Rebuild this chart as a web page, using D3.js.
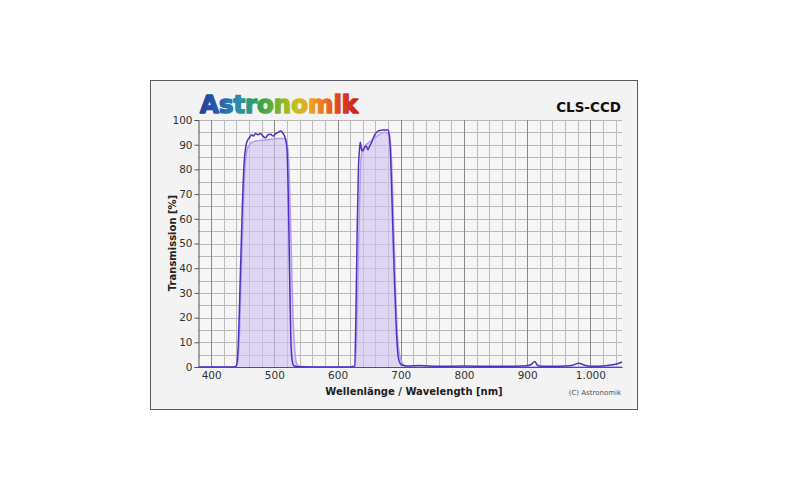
<!DOCTYPE html>
<html>
<head>
<meta charset="utf-8">
<script src="https://cdn.jsdelivr.net/npm/d3@7"></script>
<style>
  body { margin: 0; background: #ffffff; }
  svg { display: block; }
</style>
</head>
<body>
<div id="main"></div>
<script>
// Measured curve (dark line): wavelength [nm] and transmission [%]
const measuredNm = [380, 400, 420, 436, 440, 443, 446, 449, 452, 455, 458, 461, 464, 467, 470, 474, 478, 482, 486, 490, 494, 498, 502, 506, 510, 514, 518, 520, 522, 524, 526, 528, 531, 535, 560, 600, 620, 624, 627, 629, 631, 633, 635, 636, 638, 640, 643, 645, 648, 651, 654, 657, 660, 664, 668, 672, 676, 680, 682, 684, 687, 690, 693, 696, 699, 703, 710, 730, 760, 800, 840, 880, 900, 906, 912, 916, 922, 950, 970, 982, 990, 1000, 1020, 1035, 1045, 1050];
const measuredT = [0, 0, 0, 0, 0.5, 10, 35, 62, 82, 89.5, 92, 93, 94, 93.5, 94.5, 94, 94.5, 93.5, 92.8, 94, 94.2, 93.5, 94.5, 95, 95.5, 94.5, 92, 88, 70, 40, 12, 3, 0.5, 0.2, 0, 0, 0, 0.2, 0.5, 20, 55, 80, 89, 91, 88, 87.5, 89, 89.5, 88, 89.5, 91, 93, 94.5, 95.5, 95.8, 96, 96, 96, 93.5, 85, 60, 35, 15, 4, 1.5, 0.7, 0.4, 0.6, 0.3, 0.4, 0.3, 0.3, 0.5, 1, 2.2, 0.8, 0.3, 0.3, 0.6, 1.5, 0.8, 0.3, 0.4, 0.9, 1.5, 2];

// Reference curve (light filled area)
const referenceNm = [380, 438, 442, 445, 448, 451, 454, 457, 462, 470, 490, 505, 515, 520, 523, 526, 529, 532, 535, 540, 620, 627, 630, 633, 636, 639, 645, 655, 665, 675, 682, 686, 689, 692, 695, 699, 704, 710, 1050];
const referenceT = [0, 0, 2, 15, 40, 65, 82, 88, 90.5, 91.5, 92, 92.5, 92.5, 90.5, 82, 55, 25, 8, 1.5, 0, 0, 0, 10, 45, 78, 88, 90, 92, 94, 95, 94, 80, 55, 30, 12, 4, 1, 0, 0];

// Tick labels
const xTicks = [400, 500, 600, 700, 800, 900, 1000];
const xTickLabels = ['400', '500', '600', '700', '800', '900', '1.000'];
const yTicks = [0, 10, 20, 30, 40, 50, 60, 70, 80, 90, 100];

const measured = measuredNm.map((d, i) => ({ nm: d, t: measuredT[i] }));
const reference = referenceNm.map((d, i) => ({ nm: d, t: referenceT[i] }));

const width = 800;
const height = 492;

const svg = d3
  .select('div#main')
  .append('svg')
  .attr('width', width)
  .attr('height', height);

// Outer frame
svg
  .append('rect')
  .attr('x', 150.5)
  .attr('y', 80.5)
  .attr('width', 487)
  .attr('height', 329)
  .attr('fill', '#f3f3f3')
  .attr('stroke', '#5a5a5a')
  .attr('stroke-width', 1);

// Scales
const x = d3.scaleLinear().domain([380, 1050]).range([198.5, 622]);
const y = d3.scaleLinear().domain([0, 100]).range([367, 120]);

// Plot background
svg
  .append('rect')
  .attr('x', x(380))
  .attr('y', y(100))
  .attr('width', x(1050) - x(380))
  .attr('height', y(0) - y(100))
  .attr('fill', '#f6f6f6');

// Grid lines
const grid = svg.append('g');
grid
  .selectAll('line.hgrid')
  .data(d3.range(5, 101, 5))
  .join('line')
  .attr('x1', x(380))
  .attr('x2', x(1050))
  .attr('y1', (d) => Math.round(y(d)) + 0.5)
  .attr('y2', (d) => Math.round(y(d)) + 0.5)
  .attr('stroke', '#b8b8b8')
  .attr('stroke-width', 1);
grid
  .selectAll('line.vgrid')
  .data(d3.range(400, 1050, 20))
  .join('line')
  .attr('x1', (d) => Math.round(x(d)) + 0.5)
  .attr('x2', (d) => Math.round(x(d)) + 0.5)
  .attr('y1', y(100))
  .attr('y2', y(0))
  .attr('stroke', (d) => (d % 100 === 0 ? '#8a8a8a' : '#bcbcbc'))
  .attr('stroke-width', 1);

// Reference curve: light fill + outline
const area = d3
  .area()
  .x((d) => x(d.nm))
  .y0(y(0))
  .y1((d) => y(d.t))
  .curve(d3.curveMonotoneX);
const line = d3
  .line()
  .x((d) => x(d.nm))
  .y((d) => y(d.t))
  .curve(d3.curveMonotoneX);

svg
  .append('path')
  .datum(reference)
  .attr('d', area)
  .attr('fill', '#cdbff0')
  .attr('fill-opacity', 0.6);
svg
  .append('path')
  .datum(reference)
  .attr('d', line)
  .attr('fill', 'none')
  .attr('stroke', '#b39cf0')
  .attr('stroke-width', 1.5);

// Measured curve
svg
  .append('path')
  .datum(measured)
  .attr('d', line)
  .attr('fill', 'none')
  .attr('stroke', '#5230c4')
  .attr('stroke-width', 1.5);

// Axes
const yAxis = d3
  .axisLeft(y)
  .tickValues(yTicks)
  .tickSize(4)
  .tickPadding(2);
svg
  .append('g')
  .attr('transform', `translate(${x(380)},0)`)
  .call(yAxis)
  .call((g) => g.selectAll('.domain').attr('stroke', '#555555'))
  .call((g) => g.selectAll('.tick line').attr('stroke', '#555555'))
  .call((g) =>
    g
      .selectAll('.tick text')
      .attr('fill', '#333333')
      .style('font-family', 'DejaVu Sans, sans-serif')
      .style('font-size', '10.5px')
  );

const xAxis = d3
  .axisBottom(x)
  .tickValues(xTicks)
  .tickSize(0)
  .tickPadding(5)
  .tickFormat((d, i) => xTickLabels[i]);
svg
  .append('g')
  .attr('transform', `translate(0,${y(0)})`)
  .call(xAxis)
  .call((g) => g.selectAll('.domain').attr('stroke', '#555555'))
  .call((g) =>
    g
      .selectAll('.tick text')
      .attr('fill', '#333333')
      .style('font-family', 'DejaVu Sans, sans-serif')
      .style('font-size', '10.5px')
  );

// Axis titles
svg
  .append('text')
  .attr('x', 414)
  .attr('y', 395)
  .attr('text-anchor', 'middle')
  .attr('fill', '#222222')
  .style('font-family', 'DejaVu Sans, sans-serif')
  .style('font-weight', 'bold')
  .style('font-size', '10px')
  .text('Wellenlänge / Wavelength [nm]');

svg
  .append('text')
  .attr('transform', 'translate(176,243) rotate(-90)')
  .attr('text-anchor', 'middle')
  .attr('fill', '#222222')
  .style('font-family', 'DejaVu Sans, sans-serif')
  .style('font-weight', 'bold')
  .style('font-size', '10px')
  .text('Transmission [%]');

svg
  .append('text')
  .attr('x', 621)
  .attr('y', 395)
  .attr('text-anchor', 'end')
  .attr('fill', '#555555')
  .style('font-family', 'DejaVu Sans, sans-serif')
  .style('font-size', '7px')
  .text('(C) Astronomik');

// Logo with rainbow gradient
const grad = svg
  .append('defs')
  .append('linearGradient')
  .attr('id', 'rainbow')
  .attr('gradientUnits', 'userSpaceOnUse')
  .attr('x1', 199)
  .attr('x2', 359)
  .attr('y1', 0)
  .attr('y2', 0);
const stops = [
  [0, '#1f3d96'],
  [0.12, '#2a5cb0'],
  [0.25, '#2b8fa8'],
  [0.37, '#2f9f55'],
  [0.5, '#7cb52a'],
  [0.6, '#c5bf1e'],
  [0.7, '#eea321'],
  [0.8, '#ea6a20'],
  [0.9, '#dc3a22'],
  [1, '#c8201e']
];
grad
  .selectAll('stop')
  .data(stops)
  .join('stop')
  .attr('offset', (d) => d[0])
  .attr('stop-color', (d) => d[1]);

// heavy look: bold glyphs plus a stroke in the same gradient
svg
  .append('text')
  .attr('x', 200)
  .attr('y', 113)
  .attr('textLength', 158)
  .attr('lengthAdjust', 'spacingAndGlyphs')
  .attr('fill', 'url(#rainbow)')
  .attr('stroke', 'url(#rainbow)')
  .attr('stroke-width', 1.6)
  .attr('stroke-linejoin', 'round')
  .style('font-family', 'DejaVu Sans, sans-serif')
  .style('font-weight', 'bold')
  .style('font-size', '25px')
  .text('Astronomik');

svg
  .append('text')
  .attr('x', 621)
  .attr('y', 112)
  .attr('text-anchor', 'end')
  .attr('fill', '#111111')
  .style('font-family', 'DejaVu Sans, sans-serif')
  .style('font-weight', 'bold')
  .style('font-size', '13.5px')
  .text('CLS-CCD');
</script>
</body>
</html>
